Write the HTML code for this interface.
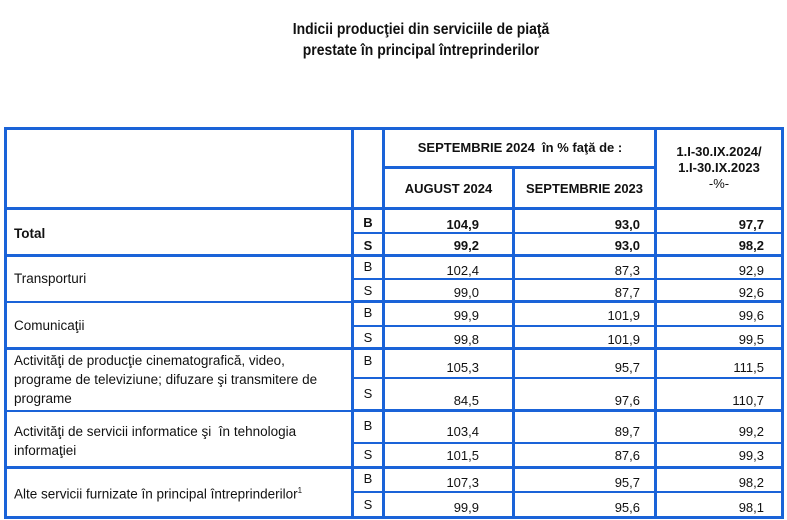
<!DOCTYPE html>
<html><head><meta charset="utf-8"><style>
body{margin:0;width:787px;height:520px;background:#fff;position:relative;overflow:hidden;font-family:"Liberation Sans",sans-serif;color:#111}
.t{position:absolute;left:0;width:842px;text-align:center;font-weight:bold;font-size:15.5px;transform:scaleX(0.9);transform-origin:421px 0}
.h{position:absolute;background:#1a63d8}
.x{position:absolute;font-size:13px;white-space:nowrap;line-height:17px}
.l{font-size:13.5px}
.b{font-weight:bold}
.r{text-align:right}
.c{text-align:center}
</style></head><body>
<div class="t" style="top:21px">Indicii producţiei din serviciile de piaţă</div>
<div class="t" style="top:42px">prestate în principal întreprinderilor</div>

<div class="h" style="left:4px;top:127px;width:780px;height:3px"></div>
<div class="h" style="left:4px;top:516px;width:780px;height:3px"></div>
<div class="h" style="left:4px;top:127px;width:3px;height:392px"></div>
<div class="h" style="left:781px;top:127px;width:3px;height:392px"></div>
<div class="h" style="left:351px;top:127px;width:3px;height:392px"></div>
<div class="h" style="left:382px;top:127px;width:3px;height:392px"></div>
<div class="h" style="left:512px;top:167px;width:3px;height:352px"></div>
<div class="h" style="left:654px;top:127px;width:3px;height:392px"></div>
<div class="h" style="left:382px;top:166px;width:274px;height:3px"></div>
<div class="h" style="left:4px;top:207px;width:780px;height:3px"></div>
<div class="h" style="left:4px;top:254px;width:780px;height:3px"></div>
<div class="h" style="left:4px;top:301px;width:348px;height:2px"></div>
<div class="h" style="left:352px;top:300px;width:432px;height:3px"></div>
<div class="h" style="left:4px;top:347px;width:780px;height:3px"></div>
<div class="h" style="left:4px;top:410px;width:348px;height:2px"></div>
<div class="h" style="left:352px;top:409px;width:432px;height:3px"></div>
<div class="h" style="left:4px;top:466px;width:780px;height:3px"></div>
<div class="h" style="left:352px;top:232px;width:432px;height:2px"></div>
<div class="h" style="left:352px;top:278px;width:432px;height:2px"></div>
<div class="h" style="left:352px;top:325px;width:432px;height:2px"></div>
<div class="h" style="left:352px;top:377px;width:432px;height:2px"></div>
<div class="h" style="left:352px;top:442px;width:432px;height:2px"></div>
<div class="h" style="left:352px;top:491px;width:432px;height:2px"></div>

<div class="x b c" style="left:385px;width:270px;top:139px;font-size:13px">SEPTEMBRIE 2024&nbsp; în % faţă de :</div>
<div class="x b c" style="left:385px;width:127px;top:180px;font-size:13px">AUGUST 2024</div>
<div class="x b c" style="left:515px;width:139px;top:180px;font-size:13px">SEPTEMBRIE 2023</div>
<div class="x b c" style="left:657px;width:124px;top:144px;font-size:13px;line-height:16px">1.I-30.IX.2024/<br>1.I-30.IX.2023<br><span style="font-weight:normal">-%-</span></div>

<div class="x b l" style="left:14px;top:225px">Total</div>
<div class="x l" style="left:14px;top:270px">Transporturi</div>
<div class="x l" style="left:14px;top:317px">Comunicaţii</div>
<div class="x l" style="left:14px;top:351px;line-height:19px">Activităţi de producţie cinematografică, video,<br>programe de televiziune; difuzare şi transmitere de<br>programe</div>
<div class="x l" style="left:14px;top:422px;line-height:19px">Activităţi de servicii informatice şi&nbsp; în tehnologia<br>informaţiei</div>
<div class="x l" style="left:14px;top:482px">Alte servicii furnizate în principal întreprinderilor<sup style="font-size:8px">1</sup></div>

<div class="x b c" style="left:354px;width:28px;top:214px">B</div><div class="x b r" style="left:385px;width:94px;top:216px">104,9</div><div class="x b r" style="left:515px;width:125px;top:216px">93,0</div><div class="x b r" style="left:657px;width:107px;top:216px">97,7</div>
<div class="x b c" style="left:354px;width:28px;top:237px">S</div><div class="x b r" style="left:385px;width:94px;top:237px">99,2</div><div class="x b r" style="left:515px;width:125px;top:237px">93,0</div><div class="x b r" style="left:657px;width:107px;top:237px">98,2</div>

<div class="x c" style="left:354px;width:28px;top:258px">B</div><div class="x r" style="left:385px;width:94px;top:262px">102,4</div><div class="x r" style="left:515px;width:125px;top:262px">87,3</div><div class="x r" style="left:657px;width:107px;top:262px">92,9</div>
<div class="x c" style="left:354px;width:28px;top:282px">S</div><div class="x r" style="left:385px;width:94px;top:284px">99,0</div><div class="x r" style="left:515px;width:125px;top:284px">87,7</div><div class="x r" style="left:657px;width:107px;top:284px">92,6</div>

<div class="x c" style="left:354px;width:28px;top:304px">B</div><div class="x r" style="left:385px;width:94px;top:307px">99,9</div><div class="x r" style="left:515px;width:125px;top:307px">101,9</div><div class="x r" style="left:657px;width:107px;top:307px">99,6</div>
<div class="x c" style="left:354px;width:28px;top:329px">S</div><div class="x r" style="left:385px;width:94px;top:331px">99,8</div><div class="x r" style="left:515px;width:125px;top:331px">101,9</div><div class="x r" style="left:657px;width:107px;top:331px">99,5</div>

<div class="x c" style="left:354px;width:28px;top:352px">B</div><div class="x r" style="left:385px;width:94px;top:359px">105,3</div><div class="x r" style="left:515px;width:125px;top:359px">95,7</div><div class="x r" style="left:657px;width:107px;top:359px">111,5</div>
<div class="x c" style="left:354px;width:28px;top:385px">S</div><div class="x r" style="left:385px;width:94px;top:392px">84,5</div><div class="x r" style="left:515px;width:125px;top:392px">97,6</div><div class="x r" style="left:657px;width:107px;top:392px">110,7</div>

<div class="x c" style="left:354px;width:28px;top:417px">B</div><div class="x r" style="left:385px;width:94px;top:423px">103,4</div><div class="x r" style="left:515px;width:125px;top:423px">89,7</div><div class="x r" style="left:657px;width:107px;top:423px">99,2</div>
<div class="x c" style="left:354px;width:28px;top:446px">S</div><div class="x r" style="left:385px;width:94px;top:447px">101,5</div><div class="x r" style="left:515px;width:125px;top:447px">87,6</div><div class="x r" style="left:657px;width:107px;top:447px">99,3</div>

<div class="x c" style="left:354px;width:28px;top:470px">B</div><div class="x r" style="left:385px;width:94px;top:474px">107,3</div><div class="x r" style="left:515px;width:125px;top:474px">95,7</div><div class="x r" style="left:657px;width:107px;top:474px">98,2</div>
<div class="x c" style="left:354px;width:28px;top:496px">S</div><div class="x r" style="left:385px;width:94px;top:499px">99,9</div><div class="x r" style="left:515px;width:125px;top:499px">95,6</div><div class="x r" style="left:657px;width:107px;top:499px">98,1</div>
</body></html>
